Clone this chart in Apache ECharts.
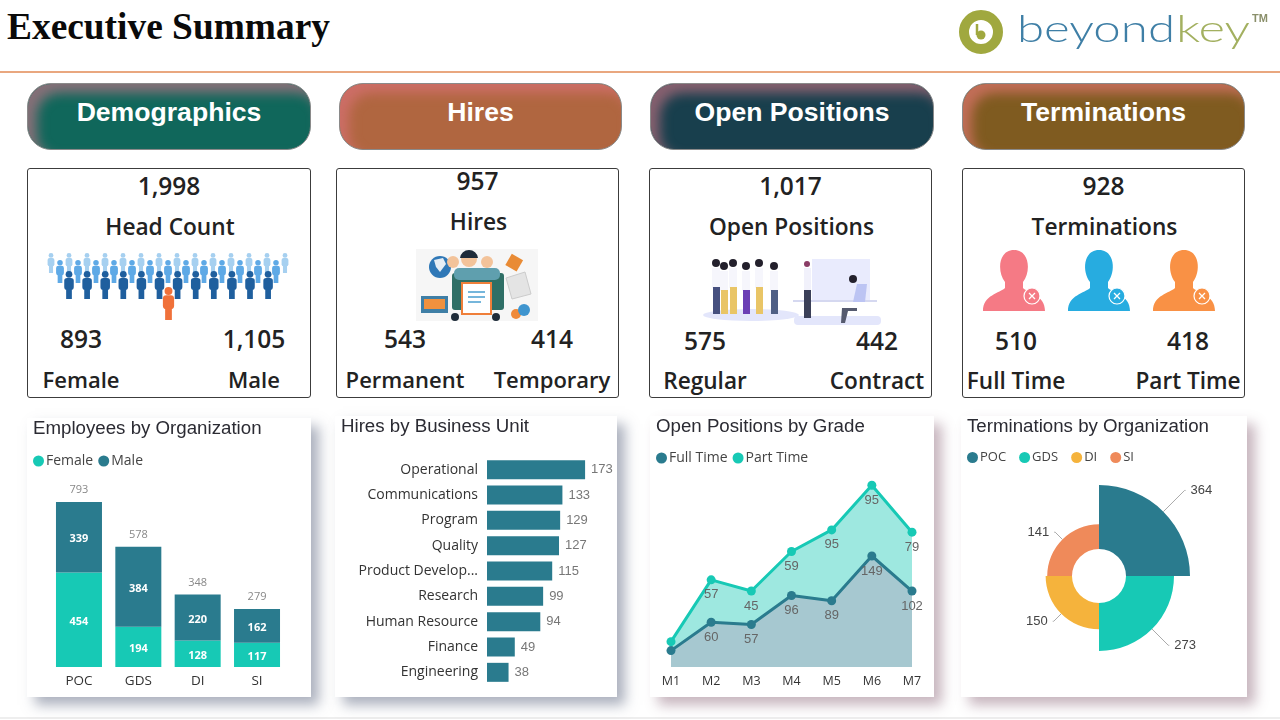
<!DOCTYPE html>
<html>
<head>
<meta charset="utf-8">
<script src="https://cdn.jsdelivr.net/npm/echarts@6/dist/echarts.min.js"></script>
<style>
  html, body { margin: 0; padding: 0; background: #fff; width: 1280px; height: 720px; overflow: hidden; }
  .abs { position: absolute; }
  #heading { left: 7px; top: 5px; font: bold 37.4px "Liberation Serif", serif; color: #0a0a0a; white-space: nowrap; }
  #rule { left: 0; top: 71px; width: 1280px; height: 2px; background: #e9a77f; }
  #floor { left: 0; top: 717px; width: 1280px; height: 2px; background: #eee; }
  .pill { height: 67px; top: 83px; border-radius: 24px; box-sizing: border-box; color: #fff; text-align: center;
    font: bold 26.6px/56px "Liberation Sans", sans-serif; border: 1px solid #8a8a8a; }
  .stat { top: 168px; height: 230px; box-sizing: border-box; border: 1px solid #3c3c3c; border-radius: 3px; }
  .txt { position: absolute; transform: translate(-50%, -50%); white-space: nowrap; color: #222;
    font-family: "Open Sans", sans-serif; font-weight: 600; }
  .card { background: #fff; }
  #art { left: 0; top: 0; filter: blur(0.4px); }
</style>
</head>
<body>
<div id="heading" class="abs">Executive Summary</div>
<div id="rule" class="abs"></div>
<div id="floor" class="abs"></div>
<div id="page"></div>
<svg id="art" class="abs" width="1280" height="720" style="pointer-events:none"></svg>
<script>
// kpi blocks
const sections = ['Demographics', 'Hires', 'Open Positions', 'Terminations'];
const totals = ['1,998', '957', '1,017', '928'];
const totalNames = ['Head Count', 'Hires', 'Open Positions', 'Terminations'];
const leftValues = ['893', '543', '575', '510'];
const rightValues = ['1,105', '414', '442', '418'];
const leftNames = ['Female', 'Permanent', 'Regular', 'Full Time'];
const rightNames = ['Male', 'Temporary', 'Contract', 'Part Time'];

// Employees by Organization
const orgs = ['POC', 'GDS', 'DI', 'SI'];
const orgFemale = [454, 194, 128, 117];
const orgMale = [339, 384, 220, 162];
const orgTotal = [793, 578, 348, 279];

// Hires by Business Unit
const units = ['Operational', 'Communications', 'Program', 'Quality', 'Product Develop...', 'Research', 'Human Resource', 'Finance', 'Engineering'];
const unitHires = [173, 133, 129, 127, 115, 99, 94, 49, 38];

// Open Positions by Grade
const months = ['M1', 'M2', 'M3', 'M4', 'M5', 'M6', 'M7'];
const fullTime = [22, 60, 57, 96, 89, 149, 102];
const partTime = [12, 57, 45, 59, 95, 95, 79];

// Terminations by Organization
const termOrgs = ['POC', 'GDS', 'DI', 'SI'];
const termValues = [364, 273, 150, 141];

const TEAL = '#2a7b8e', MINT = '#17c9b5';
const TITLE_FONT = '"Liberation Sans", sans-serif';
const BODY_FONT = '"Open Sans", sans-serif';

// page chrome, positions per column
const pillX = [27, 339, 650, 962];
const pillW = [284, 283, 284, 283];
const pillBg = ['#10675b', '#b06640', '#183f4d', '#7f5b20'];
const pillGlow = ['#857078', '#cc6e66', '#86606f', '#c26e58'];
const statX = [27, 336, 649, 962];
const statW = [284, 283, 283, 283];
const leftX = [53, 68, 55, 53];
const rightX = [226, 215, 227, 225];
const topY = [16, 11, 16, 16];
const nameY = [57, 52, 57, 57];
const valueY = [169, 169, 171, 171];
const labelY = [210, 210, 211, 211];
const labelSize = [22, 22, 22.6, 22.6];
// label line length per slice of the rose, measured from the outer radius
const termLine = [30, 7, -27, -29];

const page = document.getElementById('page');
function addText(parent, x, y, s, size) {
  const d = document.createElement('div');
  d.className = 'txt';
  d.style.left = x + 'px';
  d.style.top = y + 'px';
  d.style.fontSize = size + 'px';
  d.textContent = s;
  parent.appendChild(d);
}
sections.forEach((name, i) => {
  const p = document.createElement('div');
  p.className = 'abs pill';
  p.style.left = pillX[i] + 'px';
  p.style.width = pillW[i] + 'px';
  p.style.background = pillBg[i];
  p.style.boxShadow = 'inset 9px 9px 12px ' + pillGlow[i];
  p.textContent = name;
  page.appendChild(p);

  const s = document.createElement('div');
  s.className = 'abs stat';
  s.style.left = statX[i] + 'px';
  s.style.width = statW[i] + 'px';
  page.appendChild(s);
  addText(s, statW[i] / 2 - 1, topY[i], totals[i], 24.5);
  addText(s, statW[i] / 2, nameY[i], totalNames[i], 22.7);
  addText(s, leftX[i], valueY[i], leftValues[i], 24.5);
  addText(s, rightX[i], valueY[i], rightValues[i], 24.5);
  addText(s, leftX[i], labelY[i], leftNames[i], labelSize[i]);
  addText(s, rightX[i], labelY[i], rightNames[i], labelSize[i]);
});

// chart cards
const cardBox = [
  { x: 27, y: 418, w: 284, h: 279, shadow: 'rgba(90,100,125,.5)' },
  { x: 335, y: 416, w: 282, h: 281, shadow: 'rgba(90,100,125,.5)' },
  { x: 650, y: 416, w: 284, h: 281, shadow: 'rgba(130,90,110,.45)' },
  { x: 961, y: 416, w: 286, h: 281, shadow: 'rgba(130,90,110,.45)' }
];
const charts = cardBox.map(b => {
  const d = document.createElement('div');
  d.className = 'abs card';
  d.style.cssText = `left:${b.x}px;top:${b.y}px;width:${b.w}px;height:${b.h}px;box-shadow:8px 8px 12px ${b.shadow};`;
  page.appendChild(d);
  return echarts.init(d);
});

function baseTitle(text) {
  return { text: text, left: 6, top: 0, padding: 0, textStyle: { fontFamily: TITLE_FONT, fontSize: 18.7, fontWeight: 'normal', color: '#2b2b33', lineHeight: 22 } };
}
function baseLegend(names, top, gap, size) {
  return { data: names, left: 6, top: top, padding: 0, icon: 'circle', itemWidth: 11, itemHeight: 11, itemGap: gap,
    textStyle: { fontFamily: BODY_FONT, fontSize: size, color: '#444', padding: [0, 0, 0, -3] } };
}

charts[0].setOption({
  animation: false,
  title: baseTitle('Employees by Organization'),
  legend: baseLegend(['Female', 'Male'], 36, 5, 14),
  grid: { left: 22.3, right: 24.3, top: 82.6, bottom: 30 },
  xAxis: { type: 'category', data: orgs, axisLine: { show: false }, axisTick: { show: false },
    axisLabel: { margin: 7, fontFamily: BODY_FONT, fontSize: 13.5, color: '#333' } },
  yAxis: { type: 'value', min: 0, max: 800, show: false },
  series: [
    { name: 'Female', type: 'bar', stack: 'org', barWidth: 46, data: orgFemale, itemStyle: { color: MINT },
      label: { show: true, position: 'inside', offset: [0, 2], color: '#fff', fontFamily: BODY_FONT, fontWeight: 'bold', fontSize: 11 } },
    { name: 'Male', type: 'bar', stack: 'org', data: orgMale, itemStyle: { color: TEAL },
      label: { show: true, position: 'inside', offset: [0, 2], color: '#fff', fontFamily: BODY_FONT, fontWeight: 'bold', fontSize: 11 } },
    { name: 'Total', type: 'line', data: orgTotal, symbol: 'circle', symbolSize: 1, itemStyle: { color: 'transparent' }, lineStyle: { opacity: 0 },
      label: { show: true, position: 'top', distance: 6, color: '#888', fontFamily: BODY_FONT, fontSize: 11 } }
  ]
});

charts[1].setOption({
  animation: false,
  title: baseTitle('Hires by Business Unit'),
  grid: { left: 152, right: 16.6, top: 41, bottom: 12 },
  xAxis: { type: 'value', min: 0, max: 200, show: false },
  yAxis: { type: 'category', inverse: true, data: units, axisLine: { show: false }, axisTick: { show: false },
    axisLabel: { margin: 9, fontFamily: BODY_FONT, fontSize: 14, color: '#333' } },
  series: [{ type: 'bar', data: unitHires, barWidth: 19, itemStyle: { color: TEAL },
    label: { show: true, position: 'right', distance: 6, color: '#777', fontFamily: TITLE_FONT, fontSize: 13 } }]
});

function skipFirst(p) {
  return p.dataIndex === 0 ? '' : p.value;
}
charts[2].setOption({
  animation: false,
  title: baseTitle('Open Positions by Grade'),
  legend: baseLegend(['Full Time', 'Part Time'], 35, 5, 14),
  grid: { left: 21, right: 22, top: 42.4, bottom: 30 },
  xAxis: { type: 'category', boundaryGap: false, data: months, axisLine: { show: false }, axisTick: { show: false },
    axisLabel: { margin: 8, fontFamily: BODY_FONT, fontSize: 12.5, color: '#333' } },
  yAxis: { type: 'value', min: 0, max: 280, show: false },
  series: [
    { name: 'Full Time', type: 'line', stack: 'grade', data: fullTime, symbol: 'circle', symbolSize: 9,
      lineStyle: { color: TEAL, width: 3 }, itemStyle: { color: TEAL }, areaStyle: { color: TEAL, opacity: 0.42 },
      label: { show: true, position: 'bottom', distance: 4, color: '#666', fontFamily: TITLE_FONT, fontSize: 13, formatter: skipFirst } },
    { name: 'Part Time', type: 'line', stack: 'grade', data: partTime, symbol: 'circle', symbolSize: 9,
      lineStyle: { color: MINT, width: 3 }, itemStyle: { color: MINT }, areaStyle: { color: MINT, opacity: 0.42 },
      label: { show: true, position: 'bottom', distance: 4, color: '#666', fontFamily: TITLE_FONT, fontSize: 13, formatter: skipFirst } }
  ]
});

charts[3].setOption({
  animation: false,
  title: baseTitle('Terminations by Organization'),
  legend: baseLegend(termOrgs, 35, 13, 13),
  color: [TEAL, MINT, '#f5b33c', '#ef8a5a'],
  series: [{ type: 'pie', roseType: 'area', center: [138, 160], radius: [27, 91], startAngle: 90, clockwise: true,
    avoidLabelOverlap: false,
    data: termOrgs.map((name, i) => ({ name: name, value: termValues[i], labelLine: { length: termLine[i] } })),
    label: { formatter: '{c}', color: '#444', fontFamily: TITLE_FONT, fontSize: 13 },
    labelLine: { length2: 1, lineStyle: { color: '#aaa' } } }]
});

// illustrations, decorative only
const art = document.getElementById('art');
const parts = [];
function person(x, y, h, c) {
  const w = h * 0.34;
  parts.push(`<circle cx="${x}" cy="${y + h * 0.12}" r="${h * 0.12}" fill="${c}"/>`,
    `<rect x="${x - w / 2}" y="${y + h * 0.25}" width="${w}" height="${h * 0.42}" rx="${w * 0.3}" fill="${c}"/>`,
    `<rect x="${x - w * 0.3}" y="${y + h * 0.6}" width="${w * 0.6}" height="${h * 0.4}" fill="${c}"/>`);
}
for (let i = 0; i < 14; i++) person(51 + i * 18, 253, 20, '#a6d0f0');
for (let i = 0; i < 13; i++) person(60 + i * 18, 260, 23, '#5ea9e6');
for (let i = 0; i < 12; i++) person(69 + i * 18.1, 271, 28, '#1f5f9e');
person(168.5, 287, 33, '#f0713a');

function silhouette(x, c) {
  parts.push(`<path d="M${x - 31} 311 C${x - 31} 295 ${x - 14} 293 ${x - 9} 288 L${x - 9} 282 C${x - 17} 272 ${x - 16} 250 ${x} 250 C${x + 16} 250 ${x + 17} 272 ${x + 9} 282 L${x + 9} 288 C${x + 14} 293 ${x + 31} 295 ${x + 31} 311 Z" fill="${c}"/>`,
    `<circle cx="${x + 18}" cy="296" r="8" fill="${c}" stroke="#fff" stroke-width="1.2"/>`,
    `<path d="M${x + 15} 293 l6 6 m0 -6 l-6 6" stroke="#fff" stroke-width="1.3"/>`);
}
silhouette(1014, '#f57a85');
silhouette(1099, '#27ace0');
silhouette(1184, '#f99145');

// hires picture
parts.push('<rect x="416" y="249" width="122" height="72" fill="#f6f6f6"/>',
  '<circle cx="440" cy="267" r="11" fill="#2f78b7"/><path d="M434 260 l9 -2 l3 6 l-6 8 l-4 -5 z" fill="#e6eef5"/>',
  '<rect x="452" y="273" width="52" height="37" rx="3" fill="#2f6f66"/><rect x="454" y="268" width="46" height="12" rx="5" fill="#5f9fae"/>',
  '<circle cx="469" cy="259" r="8" fill="#f3c39a"/><circle cx="487" cy="262" r="6" fill="#f3c39a"/><circle cx="453" cy="262" r="6" fill="#f3c39a"/>',
  '<path d="M469 250 a9 9 0 0 1 9 8 l-18 0 a9 9 0 0 1 9 -8z" fill="#1f2c3a"/>',
  '<rect x="462" y="283" width="29" height="31" fill="#fff" stroke="#ef7f3a" stroke-width="2"/><path d="M468 292 h17 M468 297 h17 M468 302 h13" stroke="#4a9fd0" stroke-width="1.3"/>',
  '<rect x="421" y="296" width="27" height="17" fill="#3f7fa6"/><rect x="424" y="299" width="21" height="10" fill="#f0913e"/>',
  '<path d="M506 278 l19 -6 l6 22 l-19 5 z" fill="#e4e4e4" stroke="#ccc"/><rect x="508" y="256" width="13" height="13" fill="#e98b35" transform="rotate(30 514 262)"/>',
  '<circle cx="516" cy="314" r="5" fill="#ef8a3a"/><circle cx="524" cy="310" r="6" fill="#3f95cf"/>',
  '<circle cx="455" cy="317" r="4" fill="#1f2c3a"/><circle cx="496" cy="317" r="4" fill="#1f2c3a"/>');

// open positions picture
parts.push('<ellipse cx="751" cy="315" rx="48" ry="6" fill="#e3e6fb"/><rect x="794" y="316" width="87" height="9" rx="4" fill="#e3e6fb"/>',
  '<rect x="812" y="259" width="58" height="42" fill="#e9ebfd"/><rect x="793" y="300" width="84" height="2" fill="#d5d8f0"/>');
const crowdX = [716, 724, 733, 746, 759, 774];
const crowdPants = ['#46507f', '#e9c566', '#e9c566', '#6b3fb5', '#e9c566', '#4f5f85'];
crowdX.forEach((x, i) => {
  parts.push(`<circle cx="${x}" cy="${263 + (i % 2) * 3}" r="4" fill="#23202c"/>`,
    `<rect x="${x - 4}" y="${268 + (i % 2) * 3}" width="8" height="20" fill="#f6f6fc"/>`,
    `<rect x="${x - 3}" y="${287 + (i % 2) * 3}" width="7" height="${27 - (i % 2) * 3}" fill="${crowdPants[i]}"/>`);
});
parts.push('<circle cx="807" cy="264" r="3" fill="#8a3d66"/><rect x="804" y="268" width="7" height="22" fill="#f1f1fb"/><rect x="804" y="290" width="7" height="28" fill="#3b4058"/>',
  '<circle cx="853" cy="279" r="4" fill="#23202c"/><path d="M857 284 h10 l-2 18 h-12 z" fill="#bcc4f3"/><path d="M842 308 h15 v3 h-9 l-3 12 h-4 z" fill="#555a6e"/>');

// logo
parts.push('<circle cx="981" cy="32" r="17" fill="none" stroke="#a0a83f" stroke-width="10"/>',
  '<circle cx="981" cy="35" r="4.5" fill="#a0a83f"/><path d="M977 24 v11" stroke="#a0a83f" stroke-width="2.5"/>',
  '<text x="1017" y="42" font-family="Lato, sans-serif" font-weight="300" font-size="37" fill="#3f7fa6" textLength="158" lengthAdjust="spacingAndGlyphs">beyond</text>',
  '<text x="1176" y="42" font-family="Lato, sans-serif" font-weight="300" font-size="37" fill="#a3b060" textLength="74" lengthAdjust="spacingAndGlyphs">key</text>',
  '<text x="1252" y="22" font-family="Liberation Sans, sans-serif" font-weight="bold" font-size="11" fill="#8a8f6a">TM</text>');
art.innerHTML = parts.join('');
</script>
</body>
</html>
